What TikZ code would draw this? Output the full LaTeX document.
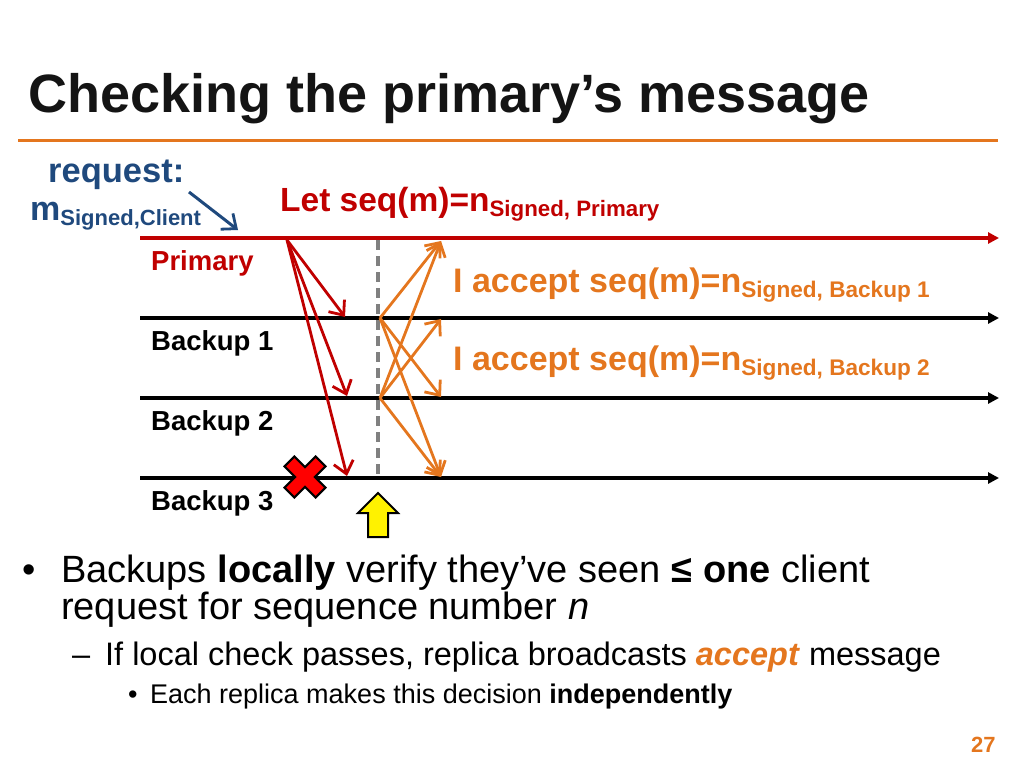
\documentclass[tikz,border=0pt]{standalone}
\usepackage{fontspec}
\setmainfont{Liberation Sans}
\usetikzlibrary{arrows.meta}
\definecolor{ttl}{RGB}{20,20,20}
\definecolor{orng}{RGB}{228,118,30}
\definecolor{redc}{RGB}{192,0,0}
\definecolor{bluec}{RGB}{31,73,125}
\definecolor{greyc}{RGB}{128,128,128}
\tikzset{
  lane/.style={line width=3.5pt,-{Triangle[length=11pt,width=11pt]}},
  barb/.style={line width=2.8pt,-{Straight Barb[length=12pt,width=20pt,line width=2.8pt]}},
  msg/.style={barb,redc},
  acc/.style={barb,orng},
  lbl/.style={anchor=base west,inner sep=0pt,font=\fontsize{27.5}{30}\selectfont\bfseries},
  txt/.style={anchor=base west,inner sep=0pt}
}
\begin{document}
\begin{tikzpicture}[x=1pt,y=-1pt]
\useasboundingbox (0,0) rectangle (1024,768);
% title
\node[txt,text=ttl,font=\fontsize{54}{58}\selectfont\bfseries] (title) at (28,112) {Checking the primary’s message};
\draw[orng,line width=3pt] (18,140) -- (998,140);
% request
\node[txt,text=bluec,font=\fontsize{34.5}{36}\selectfont\bfseries] (req) at (48,182) {request:};
\node[txt,text=bluec,font=\fontsize{34}{36}\selectfont\bfseries] (msig) at (30,220) {m\raisebox{-0.3ex}{\fontsize{22}{24}\selectfont Signed,Client}};
\coordinate (ra) at (189,192);
\coordinate (rb) at (238,230);
\draw[barb,bluec,line width=3pt] (ra) -- (rb);
% let seq
\node[txt,text=redc,font=\fontsize{33.5}{36}\selectfont\bfseries] (letseq) at (280,211) {Let seq(m)=n\raisebox{-0.3ex}{\fontsize{22.3}{24}\selectfont Signed, Primary}};
% lanes
\coordinate (L0a) at (140,238); \coordinate (L0b) at (999,238);
\coordinate (L1a) at (140,318); \coordinate (L1b) at (999,318);
\coordinate (L2a) at (140,398); \coordinate (L2b) at (999,398);
\coordinate (L3a) at (140,478); \coordinate (L3b) at (999,478);
\draw[lane,redc] (L0a) -- (L0b);
\draw[lane] (L1a) -- (L1b);
\draw[lane] (L2a) -- (L2b);
\draw[lane] (L3a) -- (L3b);
\node[lbl,text=redc] (prim) at (151,270) {Primary};
\node[lbl] (b1) at (151,350) {Backup 1};
\node[lbl] (b2) at (151,430) {Backup 2};
\node[lbl] (b3) at (151,510) {Backup 3};
% dashed
\coordinate (da) at (378,240); \coordinate (db) at (378,478);
\draw[greyc,line width=3.5pt,dash pattern=on 10pt off 6pt] (da) -- (db);
% primary messages
\coordinate (P) at (287,240);
\coordinate (P1) at (345,317);
\coordinate (P2) at (347,396);
\coordinate (P3) at (347,476);
\draw[msg] (P) -- (P1);
\draw[msg] (P) -- (P2);
\draw[msg] (P) -- (P3);
% accept messages
\coordinate (B1) at (380,318);
\coordinate (B2) at (380,398);
\coordinate (T0) at (441,241);
\coordinate (T1) at (441,319);
\coordinate (T2) at (441,397);
\coordinate (T3) at (441,477);
\draw[acc] (B1) -- (T0);
\draw[acc] (B1) -- (T2);
\draw[acc] (B1) -- (T3);
\draw[acc] (B2) -- (T0);
\draw[acc] (B2) -- (T1);
\draw[acc] (B2) -- (T3);
\node[txt,text=orng,font=\fontsize{34}{36}\selectfont\bfseries] (acc1) at (453,292) {I accept seq(m)=n\raisebox{-0.3ex}{\fontsize{22.6}{24}\selectfont Signed, Backup 1}};
\node[txt,text=orng,font=\fontsize{34}{36}\selectfont\bfseries] (acc2) at (453,370) {I accept seq(m)=n\raisebox{-0.3ex}{\fontsize{22.6}{24}\selectfont Signed, Backup 2}};
% red X
\begin{scope}[shift={(305,477)},rotate=45]
\draw[fill=red,draw=black,line width=2pt,line join=miter]
 (-7,-22) -- (7,-22) -- (7,-7) -- (22,-7) -- (22,7) -- (7,7) -- (7,22) -- (-7,22) -- (-7,7) -- (-22,7) -- (-22,-7) -- (-7,-7) -- cycle;
\end{scope}
% yellow arrow
\draw[fill=yellow,draw=black,line width=2pt,line join=miter]
 (378,493) -- (398,513) -- (388,513) -- (388,537) -- (368,537) -- (368,513) -- (358,513) -- cycle;
% bullets
\node[txt,font=\fontsize{38}{40}\selectfont] (bul1) at (22,582) {•};
\node[txt,font=\fontsize{38}{40}\selectfont] (l1) at (61,582) {Backups \textbf{locally} verify they’ve seen \textbf{≤ one} client};
\node[txt,font=\fontsize{38}{40}\selectfont] (l2) at (61,619) {request for sequence number \textit{n}};
\node[txt,font=\fontsize{32.5}{34}\selectfont] (dash) at (72,665) {–};
\node[txt,font=\fontsize{32.5}{34}\selectfont] (l3) at (105,665) {If local check passes, replica broadcasts \textcolor{orng}{\textbf{\textit{accept}}} message};
\node[txt,font=\fontsize{27}{28}\selectfont] (bul2) at (128,703) {•};
\node[txt,font=\fontsize{27}{28}\selectfont] (l4) at (150,703) {Each replica makes this decision \textbf{independently}};
\node[txt,text=orng,font=\fontsize{22}{24}\selectfont\bfseries] (pg) at (971,752) {27};
\end{tikzpicture}
\end{document}
